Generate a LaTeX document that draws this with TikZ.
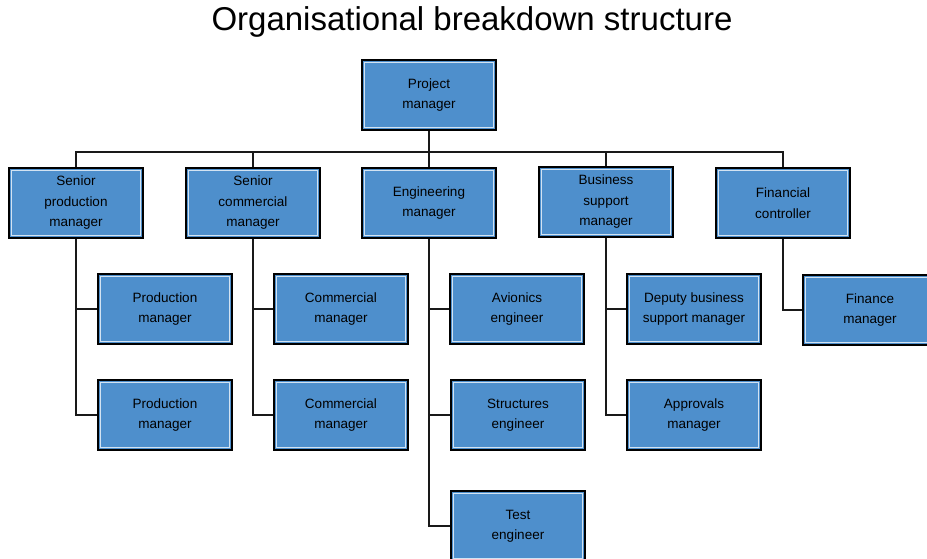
\documentclass[tikz,border=0pt]{standalone}
\usepackage{fontspec}
\setmainfont{Liberation Sans}
\definecolor{boxblue}{HTML}{4E8FCC}
\tikzset{
  obox/.style={draw=black, line width=2pt, fill=boxblue, minimum width=134pt, minimum height=70pt,
    align=center, inner sep=2pt, font=\fontsize{13.5}{20.5}\selectfont,
    path picture={\draw[white!75!boxblue, line width=1pt]
      ([shift={(2.5pt,-2.5pt)}]path picture bounding box.north west) rectangle
      ([shift={(-2.5pt,2.5pt)}]path picture bounding box.south east);}},
  link/.style={draw=black!90, line width=1.6pt}
}
\begin{document}
\begin{tikzpicture}[x=1pt, y=-1pt]
  \useasboundingbox (0,0) rectangle (927,558);
  \node (title) at (472,22) {\fontsize{33}{36}\selectfont Organisational breakdown structure};
  % top level
  \node[obox] (pm) at (429,95) {Project\\manager};
  % second level
  \node[obox] (spm) at (76,203) {Senior\\production\\manager};
  \node[obox] (scm) at (253,203) {Senior\\commercial\\manager};
  \node[obox] (em) at (429,203) {Engineering\\manager};
  \node[obox] (bsm) at (606,202) {Business\\support\\manager};
  \node[obox] (fc) at (783,203) {Financial\\controller};
  % third level
  \node[obox] (prod1) at (165,309) {Production\\manager};
  \node[obox] (prod2) at (165,415) {Production\\manager};
  \node[obox] (com1) at (341,309) {Commercial\\manager};
  \node[obox] (com2) at (341,415) {Commercial\\manager};
  \node[obox] (avi) at (517,309) {Avionics\\engineer};
  \node[obox] (str) at (518,415) {Structures\\engineer};
  \node[obox] (tst) at (518,526) {Test\\engineer};
  \node[obox] (dbsm) at (694,309) {Deputy business\\support manager};
  \node[obox] (app) at (694,415) {Approvals\\manager};
  \node[obox] (fin) at (870,310) {Finance\\manager};
  % connectors
  \draw[link] (pm.south) -- (em.north);
  \draw[link] (spm.north) -- ++(0,-15) -| (fc.north);
  \draw[link] (scm.north) -- ++(0,-15);
  \draw[link] (bsm.north) -- ++(0,-15);
  \foreach \p/\c in {spm/prod1, spm/prod2, scm/com1, scm/com2, em/avi, em/str, em/tst,
                     bsm/dbsm, bsm/app, fc/fin}
    \draw[link] (\p.south) |- (\c.west);
\end{tikzpicture}
\end{document}
